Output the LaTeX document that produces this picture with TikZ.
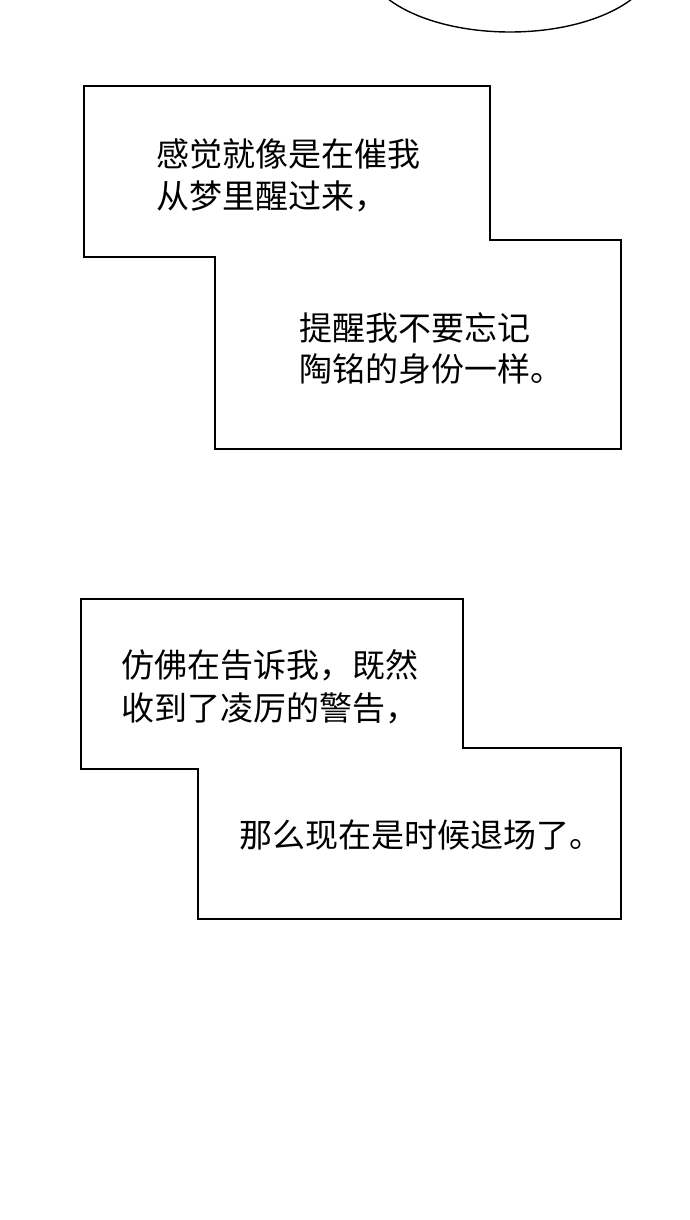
\documentclass[tikz,border=0pt]{standalone}
\usepackage{fontspec}
\newfontfamily\cjk{Noto Sans CJK SC}
\begin{document}
\begin{tikzpicture}[x=1pt,y=-1pt,
  box/.style={draw=black,line width=1.4pt,fill=white},
  txt/.style={anchor=west,inner sep=0pt,font=\cjk\fontsize{33}{40}\selectfont}]
\useasboundingbox (0,0) rectangle (690,1220);
\fill[white] (0,0) rectangle (690,1220);
\begin{scope}
\clip (0,0) rectangle (690,1220);
\draw[line width=1.4pt] (510,-40) ellipse [x radius=145, y radius=72];
\end{scope}
\draw[box] (84,86) -- (490,86) -- (490,240) -- (621,240) -- (621,449) -- (215,449) -- (215,257) -- (84,257) -- cycle;
\draw[box] (81,599) -- (463,599) -- (463,748) -- (621,748) -- (621,919) -- (198,919) -- (198,769) -- (81,769) -- cycle;
\node[txt] (a1) at (156,154) {感觉就像是在催我};
\node[txt] (a2) at (156,196) {从梦里醒过来，};
\node[txt] (b1) at (299,328) {提醒我不要忘记};
\node[txt] (b2) at (299,369) {陶铭的身份一样。};
\node[txt] (c1) at (121,665) {仿佛在告诉我，既然};
\node[txt] (c2) at (121,708) {收到了凌厉的警告，};
\node[txt] (d1) at (239,835) {那么现在是时候退场了。};
\end{tikzpicture}
\end{document}
